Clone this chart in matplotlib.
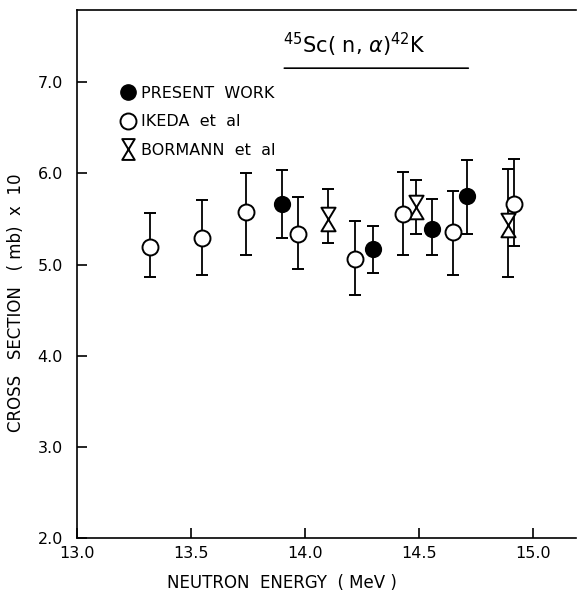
import matplotlib
matplotlib.use('Agg')
import matplotlib.pyplot as plt
import numpy as np
from matplotlib.path import Path
from matplotlib.lines import Line2D

# present work
pw_e = [13.90, 14.30, 14.56, 14.71]
pw_s = [5.66, 5.17, 5.39, 5.75]
pw_lo = [5.29, 4.91, 5.11, 5.34]
pw_hi = [6.04, 5.42, 5.72, 6.15]

# Ikeda et al
ik_e = [13.32, 13.55, 13.74, 13.97, 14.22, 14.43, 14.65, 14.92]
ik_s = [5.19, 5.29, 5.58, 5.33, 5.06, 5.56, 5.36, 5.67]
ik_lo = [4.86, 4.89, 5.10, 4.95, 4.67, 5.11, 4.88, 5.20]
ik_hi = [5.57, 5.71, 6.00, 5.74, 5.48, 6.02, 5.81, 6.16]

# Bormann et al
bo_e = [14.10, 14.49, 14.89]
bo_s = [5.50, 5.63, 5.43]
bo_lo = [5.24, 5.33, 4.86]
bo_hi = [5.83, 5.93, 6.05]

xticks = [13.0, 13.5, 14.0, 14.5, 15.0]
yticks = [2.0, 3.0, 4.0, 5.0, 6.0, 7.0]

# hourglass marker
verts = [(-0.6, 1), (0.6, 1), (0, 0), (-0.6, 1),
         (-0.6, -1), (0.6, -1), (0, 0), (-0.6, -1)]
codes = [Path.MOVETO, Path.LINETO, Path.LINETO, Path.CLOSEPOLY] * 2
hourglass = Path(verts, codes)


def err(s, lo, hi):
    s = np.array(s)
    return [s - np.array(lo), np.array(hi) - s]


plt.rcParams['font.family'] = 'DejaVu Sans'
fig = plt.figure(figsize=(5.77, 5.97), dpi=100)
ax = fig.add_axes([0.1334, 0.0993, 0.8646, 0.8847])

kw = dict(ls='none', ecolor='black', elinewidth=1.3, capsize=4, capthick=1.3,
          mec='black', mew=1.4)
ax.errorbar(ik_e, ik_s, yerr=err(ik_s, ik_lo, ik_hi), fmt='o', ms=11.5, mfc='white', zorder=3, **kw)
ax.errorbar(bo_e, bo_s, yerr=err(bo_s, bo_lo, bo_hi), fmt='none', **kw)
ax.plot(bo_e, bo_s, ls='none', marker=hourglass, ms=17, mfc='white', mec='black', mew=1.4, zorder=3)
ax.errorbar(pw_e, pw_s, yerr=err(pw_s, pw_lo, pw_hi), fmt='o', ms=11, mfc='black', zorder=4, **kw)

ax.set_xlim(13.0, 15.19)
ax.set_ylim(2.0, 7.80)
ax.set_xticks(xticks)
ax.set_yticks(yticks)
ax.set_xticklabels(['%.1f' % v for v in xticks], fontsize=11.5)
ax.set_yticklabels(['%.1f' % v for v in yticks], fontsize=11.5)
ax.tick_params(direction='in', length=7, width=1.2)
ax.tick_params(axis='y', pad=10)
ax.tick_params(axis='x', pad=6)
ax.spines['right'].set_visible(False)
for sp in ['left', 'bottom', 'top']:
    ax.spines[sp].set_linewidth(1.2)

ax.set_xlabel('NEUTRON  ENERGY  ( MeV )', fontsize=12)
ax.xaxis.set_label_coords(0.41, -0.068)
ax.set_ylabel('CROSS   SECTION   ( mb)  x  10', fontsize=12)
ax.yaxis.set_label_coords(-0.105, 0.444)

ax.text(0.413, 0.933, r'$^{45}$Sc( n, $\alpha$)$^{42}$K', transform=ax.transAxes,
        fontsize=15, va='center', ha='left')
ax.annotate('', xy=(0.79, 0.889), xytext=(0.41, 0.889), xycoords='axes fraction',
            arrowprops=dict(arrowstyle='-', lw=1.2, color='black'))

handles = [
    Line2D([], [], ls='none', marker='o', ms=11, mfc='black', mec='black'),
    Line2D([], [], ls='none', marker='o', ms=11.5, mfc='white', mec='black', mew=1.4),
    Line2D([], [], ls='none', marker=hourglass, ms=15, mfc='white', mec='black', mew=1.4),
]
labels = ['PRESENT  WORK', 'IKEDA  et  al', 'BORMANN  et  al']
ax.legend(handles, labels, loc='upper left', bbox_to_anchor=(0.077, 0.868),
          frameon=False, fontsize=11.5, handlelength=0.8, handletextpad=0.4,
          labelspacing=0.85, borderaxespad=0)

fig.savefig('out.png', dpi=100)
